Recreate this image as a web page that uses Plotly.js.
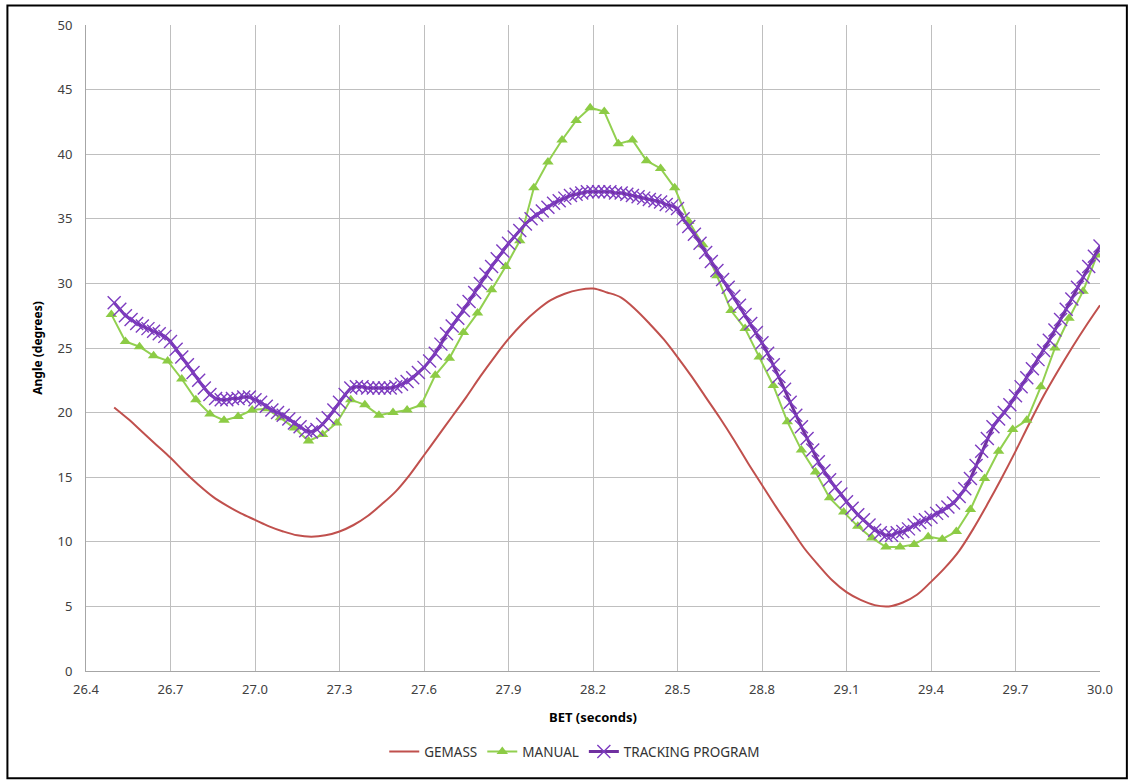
<!DOCTYPE html>
<html>
<head>
<meta charset="utf-8">
<script src="https://cdn.plot.ly/plotly-3.0.1.min.js"></script>
<style>
html,body{margin:0;padding:0;background:#fff;}
#chart{width:1130px;height:782px;}
</style>
</head>
<body>
<div id="chart"></div>
<script>
// GEMASS (every 0.05 s from 26.50 to 30.00)
const gemassStart = 26.5, gemassStep = 0.05;
const gemassValues = [
 20.4,19.5,18.5,17.5,16.5,15.4,14.4,13.5,12.8,12.2,
 11.7,11.2,10.8,10.5,10.4,10.5,10.8,11.3,12.0,12.9,
 13.9,15.2,16.7,18.2,19.7,21.2,22.8,24.3,25.7,26.9,
 27.9,28.7,29.2,29.5,29.6,29.3,28.9,28.0,26.9,25.7,
 24.3,22.8,21.2,19.6,17.9,16.1,14.4,12.7,11.1,9.5,
 8.2,7.0,6.1,5.5,5.1,5.0,5.3,5.9,6.9,8.0,
 9.3,11.0,12.9,14.9,17.0,19.2,21.3,23.2,25.0,26.7,
 28.3
];
// MANUAL (every 0.05 s from 26.49)
const manualStart = 26.49, manualStep = 0.05;
const manualValues = [
 27.6,25.5,25.1,24.4,24.0,22.6,21.0,19.9,19.4,19.7,
 20.2,20.3,19.6,18.8,17.8,18.3,19.2,21.0,20.6,19.8,
 20.0,20.2,20.6,22.9,24.2,26.2,27.7,29.5,31.3,33.3,
 37.4,39.4,41.1,42.6,43.6,43.3,40.8,41.1,39.5,38.9,
 37.4,34.8,33.0,30.6,27.9,26.5,24.3,22.1,19.3,17.1,
 15.4,13.4,12.3,11.2,10.3,9.6,9.6,9.8,10.4,10.2,
 10.8,12.5,14.9,17.0,18.7,19.4,22.0,25.0,27.3,29.4,
 32.2
];
// TRACKING PROGRAM (every 0.02 s from 26.50 to 30.00)
const trackStart = 26.5, trackStep = 0.02;
const trackValues = [
 28.5,28.0,27.5,27.2,26.9,26.7,26.5,26.3,26.1,25.9,
 25.5,24.9,24.3,23.7,23.1,22.5,21.9,21.4,21.1,21.0,
 21.0,21.1,21.1,21.2,21.2,21.0,20.8,20.5,20.2,20.0,
 19.8,19.5,19.2,18.9,18.6,18.5,18.7,19.1,19.6,20.2,
 20.8,21.4,21.9,22.0,22.0,21.9,21.9,21.9,21.9,21.9,
 22.0,22.2,22.4,22.7,23.1,23.5,24.0,24.6,25.3,26.1,
 26.7,27.3,27.9,28.6,29.3,30.0,30.7,31.3,31.9,32.5,
 33.1,33.6,34.1,34.6,35.0,35.3,35.6,35.9,36.2,36.4,
 36.6,36.8,36.9,37.0,37.1,37.1,37.1,37.1,37.1,37.0,
 37.0,36.9,36.8,36.7,36.6,36.5,36.4,36.3,36.1,36.0,
 35.8,35.0,34.4,33.8,33.1,32.4,31.7,31.0,30.3,29.7,
 29.0,28.3,27.6,26.9,26.2,25.4,24.6,23.7,22.8,21.8,
 20.8,19.8,18.9,18.0,17.1,16.2,15.5,14.8,14.2,13.7,
 13.1,12.6,12.1,11.7,11.3,10.9,10.7,10.5,10.5,10.7,
 10.8,11.0,11.3,11.5,11.7,11.9,12.2,12.4,12.7,13.0,
 13.5,14.1,14.9,15.9,17.0,18.0,18.9,19.5,20.0,20.6,
 21.3,22.0,22.7,23.4,24.1,24.8,25.6,26.4,27.2,28.0,
 28.8,29.7,30.5,31.3,32.1,32.9
];
const xTickVals = [26.4,26.7,27.0,27.3,27.6,27.9,28.2,28.5,28.8,29.1,29.4,29.7,30.0];
const xTickText = ["26.4","26.7","27.0","27.3","27.6","27.9","28.2","28.5","28.8","29.1","29.4","29.7","30.0"];

function times(start, step, n){ const a=[]; for(let i=0;i<n;i++) a.push(+(start+i*step).toFixed(3)); return a; }

const font = "Noto Sans, Open Sans, sans-serif";
const traces = [
 {x: times(gemassStart,gemassStep,gemassValues.length), y: gemassValues, name:"GEMASS",
  type:"scatter", mode:"lines", line:{color:"#C0504D", width:2, shape:"spline", smoothing:1}},
 {x: times(manualStart,manualStep,manualValues.length), y: manualValues, name:"MANUAL",
  type:"scatter", mode:"lines+markers", line:{color:"#92D050", width:2},
  marker:{symbol:"triangle-up", size:10, color:"#8CCB45"}},
 {x: times(trackStart,trackStep,trackValues.length), y: trackValues, name:"TRACKING PROGRAM",
  type:"scatter", mode:"lines+markers", line:{color:"#7030A0", width:3},
  marker:{symbol:"x-thin", size:13, color:"#7D3CC0", line:{width:1.4, color:"#7D3CC0"}}}
];
const layout = {
 width:1130, height:782,
 margin:{l:86, r:30, t:25, b:111},
 paper_bgcolor:"#ffffff", plot_bgcolor:"#ffffff",
 font:{family:font, size:13, color:"#333333"},
 showlegend:true,
 legend:{orientation:"h", x:0.482, xanchor:"center", y:-0.125, yanchor:"middle",
   font:{family:font, size:13.5, color:"#333333"}, itemwidth:30, traceorder:"normal"},
 xaxis:{range:[26.4,30.0], tickvals:xTickVals, ticktext:xTickText,
   showgrid:true, gridcolor:"#BFBFBF", gridwidth:1, zeroline:false,
   showline:true, linecolor:"#A6A6A6", linewidth:1, ticks:"", ticklabelstandoff:6,
   tickfont:{family:font, size:13, color:"#404040"},
   title:{text:"<b>BET (seconds)</b>", font:{family:font, size:13, color:"#000000"}, standoff:16}},
 yaxis:{range:[0,50], dtick:5, tick0:0,
   showgrid:true, gridcolor:"#BFBFBF", gridwidth:1, zeroline:false,
   showline:true, linecolor:"#A6A6A6", linewidth:1, ticks:"", ticklabelstandoff:10,
   tickfont:{family:font, size:13, color:"#404040"},
   title:{text:"<b>Angle (degrees)</b>", font:{family:font, size:12, color:"#000000"}, standoff:12}},
 shapes:[
  {type:"rect", xref:"paper", yref:"paper", x0:-0.0775, x1:1.0265, y0:-0.166, y1:1.03,
   line:{color:"#000000", width:2}, fillcolor:"rgba(0,0,0,0)", layer:"above"}
 ]
};
Plotly.newPlot("chart", traces, layout, {displayModeBar:false, staticPlot:true});
</script>
</body>
</html>
